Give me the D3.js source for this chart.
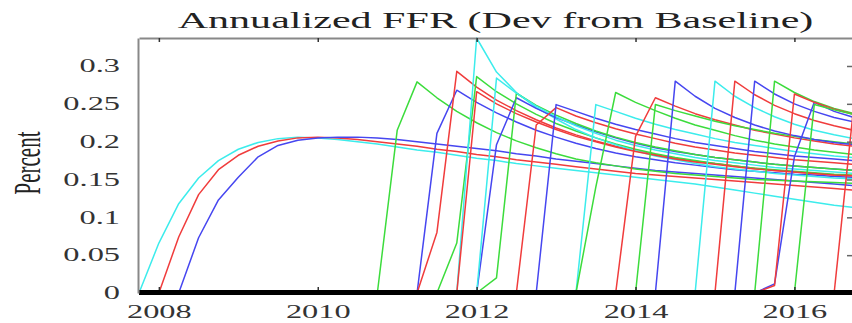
<!DOCTYPE html>
<html>
<head>
<meta charset="utf-8">
<script src="https://cdn.jsdelivr.net/npm/d3@7"></script>
<style>
body { margin: 0; background: #fff; }
text { font-family: "Liberation Serif", "Times New Roman", serif; fill: #333; }
</style>
</head>
<body>
<svg width="852" height="323"></svg>
<script>
// quarterly dates along the x axis
var quarters = [2007.75, 2008, 2008.25, 2008.5, 2008.75, 2009, 2009.25, 2009.5, 2009.75,
  2010, 2010.25, 2010.5, 2010.75, 2011, 2011.25, 2011.5, 2011.75, 2012, 2012.25, 2012.5, 2012.75,
  2013, 2013.25, 2013.5, 2013.75, 2014, 2014.25, 2014.5, 2014.75, 2015, 2015.25, 2015.5, 2015.75,
  2016, 2016.25, 2016.5, 2016.75];

var xTicks = [2008, 2010, 2012, 2014, 2016];
var yTicks = [0, 0.05, 0.1, 0.15, 0.2, 0.25, 0.3];

// one entry per scenario: colour, last quarter at zero, then the values after it
var lineColors = ["c", "r", "b", "g", "b", "r", "g", "c", "r", "b", "g", "c", "r", "b",
  "c", "g", "r", "g", "b", "c", "r", "b", "g", "b", "r", "g", "r"];
var lineStarts = [0, 1, 2, 12, 14, 14, 15, 16, 16, 17, 17, 17, 19, 20,
  22, 22, 24, 25, 26, 28, 29, 30, 31, 31, 31, 33, 35];
var lineValues = [
  [.066,.118,.152,.175,.19,.199,.204,.206,.205,.203,.2,.197,.193,.189,.186,.182,.178,.175,.171,.168,.165,.162,.159,.156,.153,.15,.147,.144,.14,.136,.132,.128,.124,.12,.116,.113],
  [.074,.13,.163,.182,.194,.201,.205,.206,.205,.203,.2,.197,.194,.19,.187,.183,.18,.176,.173,.17,.167,.164,.161,.158,.156,.154,.152,.15,.148,.146,.144,.142,.14,.138,.136],
  [.073,.123,.153,.18,.195,.202,.205,.206,.206,.205,.203,.2,.197,.194,.191,.188,.184,.181,.177,.174,.171,.168,.165,.162,.16,.158,.156,.154,.152,.15,.148,.146,.144,.142],
  [.215,.279,.258,.24,.225,.212,.201,.192,.184,.177,.172,.168,.164,.161,.158,.156,.154,.152,.15,.149,.148,.147,.146,.145],
  [.211,.268,.252,.238,.226,.215,.206,.198,.191,.185,.18,.176,.172,.169,.166,.163,.161,.159,.157,.156,.154,.153],
  [.08,.293,.272,.255,.241,.229,.218,.209,.201,.194,.188,.183,.178,.174,.171,.168,.165,.162,.16,.158,.156,.155],
  [.066,.286,.266,.25,.236,.224,.214,.205,.197,.19,.184,.179,.175,.171,.168,.165,.163,.161,.159,.157,.156],
  [.337,.292,.265,.245,.23,.216,.205,.196,.188,.181,.176,.171,.167,.164,.161,.158,.156,.154,.152,.151],
  [.266,.25,.237,.226,.216,.207,.2,.193,.187,.182,.177,.173,.17,.167,.164,.162,.16,.158,.156,.155],
  [.196,.258,.244,.232,.222,.213,.205,.198,.192,.187,.183,.179,.176,.173,.17,.168,.166,.164,.162],
  [.02,.264,.248,.235,.224,.214,.206,.199,.193,.188,.183,.179,.176,.173,.17,.168,.166,.164,.162],
  [.284,.264,.247,.233,.221,.211,.202,.195,.189,.184,.179,.175,.172,.169,.166,.164,.162,.16,.158],
  [.222,.245,.234,.225,.217,.21,.204,.198,.193,.189,.185,.182,.179,.176,.174,.172,.17],
  [.249,.24,.231,.223,.216,.21,.204,.199,.195,.191,.187,.184,.181,.179,.177,.175],
  [.249,.24,.231,.223,.216,.21,.204,.199,.195,.191,.187,.184,.181,.179],
  [.14,.265,.252,.241,.231,.222,.215,.208,.202,.197,.193,.189,.186,.183],
  [.207,.258,.247,.237,.229,.222,.215,.21,.205,.201,.197,.194],
  [.249,.241,.234,.227,.221,.216,.211,.207,.203,.2,.197],
  [.28,.26,.244,.232,.222,.214,.208,.203,.199,.196],
  [.28,.26,.245,.233,.223,.215,.209,.204],
  [.28,.262,.248,.237,.228,.221,.215],
  [.28,.263,.25,.24,.232,.226],
  [.28,.265,.253,.244,.237],
  [.012,.18,.252,.24,.232],
  [.01,.263,.252,.243,.236],
  [.249,.242,.236],
  [.25]
];

var svg = d3.select("svg");

var x = d3.scaleLinear().domain([2007.75, 2016.75]).range([139, 854]);
var y = d3.scaleLinear().domain([0, 0.337]).range([293, 38]);

var color = d3.scaleOrdinal()
    .domain(["c", "r", "b", "g"])
    .range(["#3cecec", "#f03c3c", "#4646f0", "#3cdc3c"]);

svg.append("clipPath").attr("id", "plot")
  .append("rect").attr("x", 138).attr("y", 37).attr("width", 716).attr("height", 258);

var line = d3.line()
    .x(function(d) { return x(d[0]); })
    .y(function(d) { return y(d[1]); });

// build each path: the zero point at liftoff, then the values after it
var series = lineValues.map(function(vals, i) {
  var z = lineStarts[i];
  var pts = [[quarters[z], 0]];
  vals.forEach(function(v, k) { pts.push([quarters[z + 1 + k], v]); });
  return {color: lineColors[i], pts: pts};
});

svg.append("g")
    .attr("clip-path", "url(#plot)")
  .selectAll("path")
  .data(series)
  .enter().append("path")
    .attr("fill", "none")
    .attr("stroke", function(d) { return color(d.color); })
    .attr("stroke-width", 1.5)
    .attr("stroke-linejoin", "round")
    .attr("d", function(d) { return line(d.pts); });

// thick black zero line
svg.append("line")
    .attr("x1", x(2007.75)).attr("x2", 852)
    .attr("y1", y(0) - 0.5).attr("y2", y(0) - 0.5)
    .attr("stroke", "#000").attr("stroke-width", 5);

var sx = 1.8;

// top border with ticks pointing in
var topAxis = svg.append("g")
    .attr("transform", "translate(0," + y.range()[1] + ")")
    .call(d3.axisBottom(x).tickValues(xTicks).tickSize(4).tickSizeOuter(0).tickFormat(""));
topAxis.select(".domain").attr("stroke", "#888").attr("stroke-width", 2);
topAxis.selectAll(".tick line").attr("stroke", "#333").attr("stroke-width", 1.5);

// bottom ticks pointing up
svg.append("g")
    .attr("transform", "translate(0," + (y(0) - 3) + ")")
    .call(d3.axisTop(x).tickValues(xTicks).tickSize(3).tickFormat(""))
    .call(function(g) { g.select(".domain").remove(); })
    .selectAll(".tick line").attr("stroke", "#333").attr("stroke-width", 1.5);

// bottom labels
var xAxis = svg.append("g")
    .attr("transform", "translate(0," + y(0) + ")")
    .call(d3.axisBottom(x).tickValues(xTicks).tickSize(0).tickPadding(12).tickFormat(d3.format("d")));
xAxis.select(".domain").remove();
xAxis.selectAll("text")
    .style("font-size", "18px")
    .attr("transform", "scale(" + sx + ",1)");

// left border with labels
var yAxis = svg.append("g")
    .attr("transform", "translate(138,0)")
    .call(d3.axisLeft(y).tickValues(yTicks).tickSize(0).tickSizeOuter(0).tickPadding(10)
      .tickFormat(function(d) { return d3.format("")(+d.toFixed(2)); }));
yAxis.select(".domain").attr("stroke", "#888").attr("stroke-width", 2);
yAxis.selectAll("text")
    .style("font-size", "18px")
    .attr("transform", "scale(" + sx + ",1)");

// right side ticks pointing in
svg.append("g")
    .attr("transform", "translate(852,0)")
    .call(d3.axisLeft(y).tickValues(yTicks.slice(1)).tickSize(5).tickSizeOuter(0).tickFormat(""))
    .call(function(g) { g.select(".domain").remove(); })
    .selectAll(".tick line").attr("stroke", "#666").attr("stroke-width", 1.5);

svg.append("text")
    .attr("transform", "translate(495.5,28) scale(1.83,1)")
    .attr("text-anchor", "middle")
    .style("font-size", "23px")
    .style("fill", "#222")
    .text("Annualized FFR (Dev from Baseline)");

svg.append("text")
    .attr("transform", "translate(40,163) scale(1.8,1) rotate(-90)")
    .attr("text-anchor", "middle")
    .style("font-size", "21px")
    .style("fill", "#222")
    .text("Percent");
</script>
</body>
</html>
